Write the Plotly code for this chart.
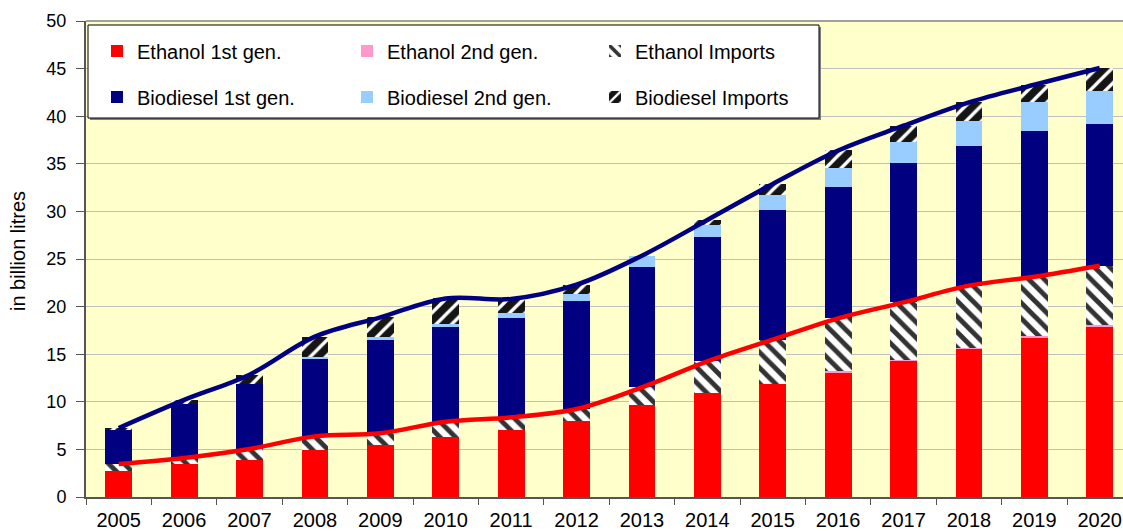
import plotly.graph_objects as go

# data (billion litres)
years = [str(y) for y in range(2005, 2021)]
eth_1st = [2.76, 3.47, 3.92, 4.97, 5.50, 6.34, 7.07, 8.02, 9.66, 10.92, 11.87, 13.10, 14.30, 15.60, 16.74, 17.93]
eth_2nd = [0, 0, 0, 0, 0, 0, 0, 0, 0, 0, 0, 0.10, 0.05, 0.10, 0.20, 0.14]
eth_imp = [0.71, 0.63, 1.12, 1.40, 1.19, 1.57, 1.30, 1.22, 1.86, 3.33, 4.66, 5.57, 6.10, 6.50, 6.20, 6.23]
bio_1st = [3.67, 5.67, 6.83, 8.20, 9.84, 9.95, 10.40, 11.38, 12.67, 13.10, 13.62, 13.83, 14.63, 14.70, 15.34, 14.88]
bio_2nd = [0, 0, 0, 0.17, 0.31, 0.30, 0.52, 0.70, 1.16, 1.25, 1.61, 2.00, 2.22, 2.60, 3.02, 3.50]
bio_imp = [0.10, 0.43, 0.98, 2.10, 2.03, 2.70, 1.51, 0.98, 0.0, 0.50, 1.12, 1.80, 1.70, 1.95, 1.80, 2.38]

eth_total = [a + b + c for a, b, c in zip(eth_1st, eth_2nd, eth_imp)]
all_total = [e + a + b + c for e, a, b, c in zip(eth_total, bio_1st, bio_2nd, bio_imp)]

W, H = 1123, 531
L, T, B = 86, 21, 34        # plot area edges in px
pw, ph = W - L, H - B - T


def px(x):
    return (x - L) / pw


def py(y):
    return (H - B - y) / ph


FONT = "Arial, Liberation Sans, sans-serif"
bw = 0.41

fig = go.Figure()

series = [
    ("Ethanol 1st gen.", eth_1st, "#FF0000", None, "legend"),
    ("Ethanol 2nd gen.", eth_2nd, "#FF99CC", None, "legend2"),
    ("Ethanol Imports", eth_imp, "white",
     dict(shape="\\", fgcolor="#333333", fgopacity=1, size=11, solidity=0.45), "legend3"),
    ("Biodiesel 1st gen.", bio_1st, "#000080", None, "legend4"),
    ("Biodiesel 2nd gen.", bio_2nd, "#99CCFF", None, "legend5"),
    ("Biodiesel Imports", bio_imp, "#151515",
     dict(shape="/", fgcolor="white", fgopacity=1, size=11, solidity=0.3), "legend6"),
]

for name, vals, col, pat, leg in series:
    marker = dict(color=col, line=dict(width=0))
    if pat:
        marker["pattern"] = pat
    fig.add_trace(go.Bar(x=years, y=vals, name=name, marker=marker, width=bw, legend=leg))

fig.add_trace(go.Scatter(x=years, y=eth_total, mode="lines", showlegend=False,
                         line=dict(color="#FF0000", width=4.5, shape="spline", smoothing=1)))
fig.add_trace(go.Scatter(x=years, y=all_total, mode="lines", showlegend=False,
                         line=dict(color="#000080", width=4.5, shape="spline", smoothing=1)))

# legend grid: three columns, two rows
text_x = [137, 387, 635]
row_y = [51, 97]
legs = {}
for i, key in enumerate(["legend", "legend2", "legend3", "legend4", "legend5", "legend6"]):
    col, row = i % 3, i // 3
    legs[key] = dict(x=px(text_x[col] - 40), y=py(row_y[row]), xanchor="left", yanchor="middle",
                     bgcolor="rgba(0,0,0,0)", borderwidth=0,
                     font=dict(family=FONT, size=20, color="black"))

fig.update_layout(
    width=W, height=H,
    margin=dict(l=L, r=0, t=T, b=B),
    paper_bgcolor="white",
    plot_bgcolor="#FFFFCC",
    barmode="stack",
    font=dict(family=FONT, color="black"),
    **legs,
    shapes=[
        dict(type="line", xref="paper", yref="paper", x0=0, x1=1, y0=1, y1=1,
             line=dict(color="#A0A0A0", width=2), layer="above"),
        dict(type="rect", xref="paper", yref="paper", x0=px(90), x1=px(821), y0=py(27), y1=py(120),
             fillcolor="#808080", line=dict(width=0), layer="above"),
        dict(type="rect", xref="paper", yref="paper", x0=px(88), x1=px(819), y0=py(25), y1=py(118),
             fillcolor="white", line=dict(color="black", width=1), layer="above"),
    ],
    annotations=[
        dict(text="in billion litres", textangle=-90, xref="paper", yref="paper",
             x=px(18), y=py(251), xanchor="center", yanchor="middle", showarrow=False,
             font=dict(family=FONT, size=20, color="black")),
    ],
)

fig.update_xaxes(
    type="category", range=[-0.5, 15.356], automargin=False,
    tickson="boundaries", ticks="outside", ticklen=6, tickcolor="#555555",
    showline=True, linecolor="#555555", linewidth=2,
    showgrid=False, tickfont=dict(family=FONT, size=20, color="black"),
    ticklabelstandoff=4,
)
fig.update_yaxes(
    range=[0, 50], dtick=5, automargin=False,
    ticks="outside", ticklen=8, tickcolor="#555555",
    showline=True, linecolor="#555555", linewidth=2,
    showgrid=True, gridcolor="#C0C0C0", gridwidth=1,
    tickfont=dict(family=FONT, size=18, color="black"),
    ticklabelstandoff=6, zeroline=False,
)

# drop the default page margin so the figure fills the window exactly
fig.write_html("out.html", config={"displayModeBar": False},
               post_script="document.body.style.margin='0';document.body.style.overflow='hidden';")
